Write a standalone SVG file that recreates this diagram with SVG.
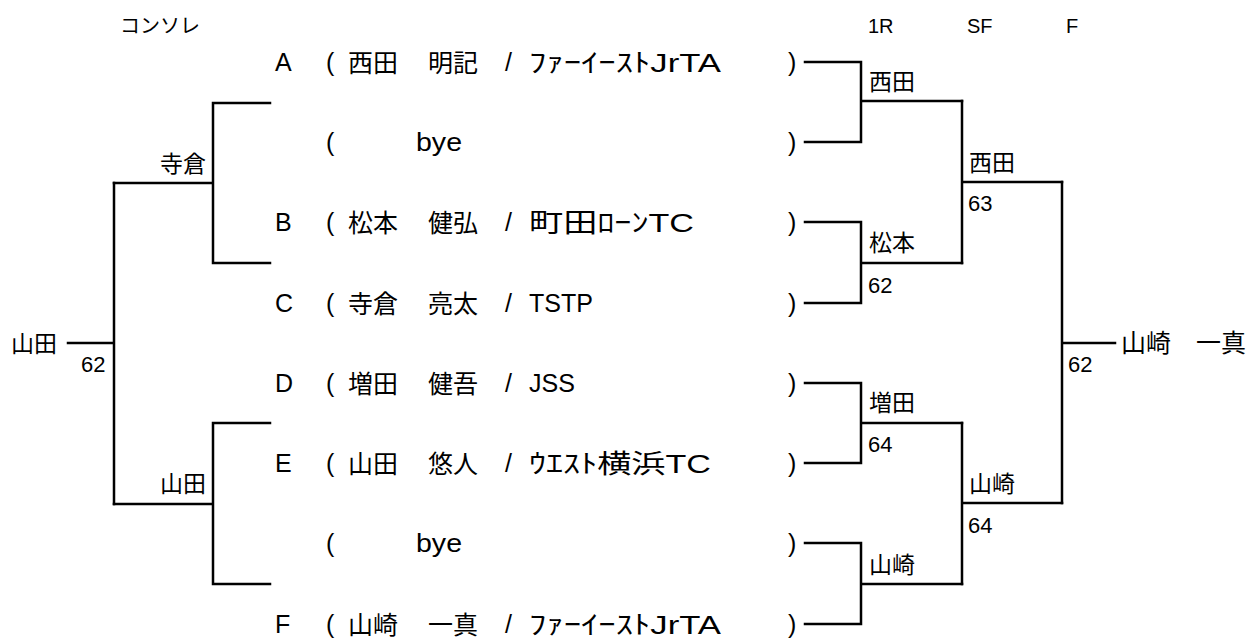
<svg xmlns="http://www.w3.org/2000/svg" width="1260" height="639" viewBox="0 0 1260 639">
<style>
text{font-family:"Liberation Sans","Noto Sans CJK JP",sans-serif;fill:#000}
.lt{font-size:25px}
.kt{font-size:26px}
.nm{font-size:25px}
.lb{font-size:23px}
.sc{font-size:22px}
.hd{font-size:20px}
.big{font-size:25px}
.ln{fill:none;stroke:#000;stroke-width:2.5;stroke-linecap:square}
</style>
<rect width="1260" height="639" fill="#fff"/>
<g id="headers">
<text class="hd" x="120" y="33">コンソレ</text>
<text class="hd" x="868" y="33">1R</text>
<text class="hd" x="967" y="33">SF</text>
<text class="hd" x="1066" y="33">F</text>
</g>
<g id="connectors" class="ln">
<path d="M805,62H861V142H805M861,101H962"/>
<path d="M805,222H861V303H805M861,263H962"/>
<path d="M805,383H861V463H805M861,423H962"/>
<path d="M805,543H861V624H805M861,584H962"/>
<path d="M962,101V263M962,182H1062"/>
<path d="M962,423V584M962,503H1062"/>
<path d="M1062,182V503M1062,343H1115"/>
<path d="M270,103H213V263H270M213,183H114"/>
<path d="M270,423H213V584H270M213,504H114"/>
<path d="M114,183V504M114,343H68"/>
</g>
<g id="entry-A">
<text class="lt" x="275" y="71">A</text><text class="lt" x="326" y="71">(</text>
<text class="nm" x="348" y="72">西田</text><text class="nm" x="428" y="72">明記</text>
<text class="lt" x="505" y="71">/</text><text class="kt" x="529" y="72" textLength="192" lengthAdjust="spacingAndGlyphs">ﾌｧｰｲｰｽﾄJrTA</text><text class="lt" x="788" y="71">)</text>
</g>
<g id="entry-bye1">
<text class="lt" x="326" y="151">(</text><text class="lt" x="416" y="151" textLength="46" lengthAdjust="spacingAndGlyphs">bye</text><text class="lt" x="788" y="151">)</text>
</g>
<g id="entry-B">
<text class="lt" x="275" y="231">B</text><text class="lt" x="326" y="231">(</text>
<text class="nm" x="348" y="232">松本</text><text class="nm" x="428" y="232">健弘</text>
<text class="lt" x="505" y="231">/</text><text class="kt" x="529" y="232" textLength="165" lengthAdjust="spacingAndGlyphs">町田ﾛｰﾝTC</text><text class="lt" x="788" y="231">)</text>
</g>
<g id="entry-C">
<text class="lt" x="275" y="312">C</text><text class="lt" x="326" y="312">(</text>
<text class="nm" x="348" y="313">寺倉</text><text class="nm" x="428" y="313">亮太</text>
<text class="lt" x="505" y="312">/</text><text class="lt" x="529" y="312">TSTP</text><text class="lt" x="788" y="312">)</text>
</g>
<g id="entry-D">
<text class="lt" x="275" y="392">D</text><text class="lt" x="326" y="392">(</text>
<text class="nm" x="348" y="393">増田</text><text class="nm" x="428" y="393">健吾</text>
<text class="lt" x="505" y="392">/</text><text class="lt" x="529" y="392">JSS</text><text class="lt" x="788" y="392">)</text>
</g>
<g id="entry-E">
<text class="lt" x="275" y="472">E</text><text class="lt" x="326" y="472">(</text>
<text class="nm" x="348" y="473">山田</text><text class="nm" x="428" y="473">悠人</text>
<text class="lt" x="505" y="472">/</text><text class="kt" x="529" y="473" textLength="182" lengthAdjust="spacingAndGlyphs">ｳｴｽﾄ横浜TC</text><text class="lt" x="788" y="472">)</text>
</g>
<g id="entry-bye2">
<text class="lt" x="326" y="552">(</text><text class="lt" x="416" y="552" textLength="46" lengthAdjust="spacingAndGlyphs">bye</text><text class="lt" x="788" y="552">)</text>
</g>
<g id="entry-F">
<text class="lt" x="275" y="633">F</text><text class="lt" x="326" y="633">(</text>
<text class="nm" x="348" y="634">山崎</text><text class="nm" x="428" y="634">一真</text>
<text class="lt" x="505" y="633">/</text><text class="kt" x="529" y="634" textLength="192" lengthAdjust="spacingAndGlyphs">ﾌｧｰｲｰｽﾄJrTA</text><text class="lt" x="788" y="633">)</text>
</g>
<g id="main-results">
<text class="lb" x="869" y="90">西田</text>
<text class="lb" x="869" y="251">松本</text><text class="sc" x="868" y="293">62</text>
<text class="lb" x="869" y="411">増田</text><text class="sc" x="868" y="452">64</text>
<text class="lb" x="869" y="573">山崎</text>
<text class="lb" x="969" y="171">西田</text><text class="sc" x="968" y="211">63</text>
<text class="lb" x="969" y="492">山崎</text><text class="sc" x="968" y="533">64</text>
<text class="sc" x="1068" y="372">62</text>
<text class="big" x="1121" y="352">山崎　一真</text>
</g>
<g id="consolation-results">
<text class="lb" x="160" y="172">寺倉</text>
<text class="lb" x="160" y="492">山田</text>
<text class="lb" x="11" y="352">山田</text>
<text class="sc" x="81" y="372">62</text>
</g>
</svg>
